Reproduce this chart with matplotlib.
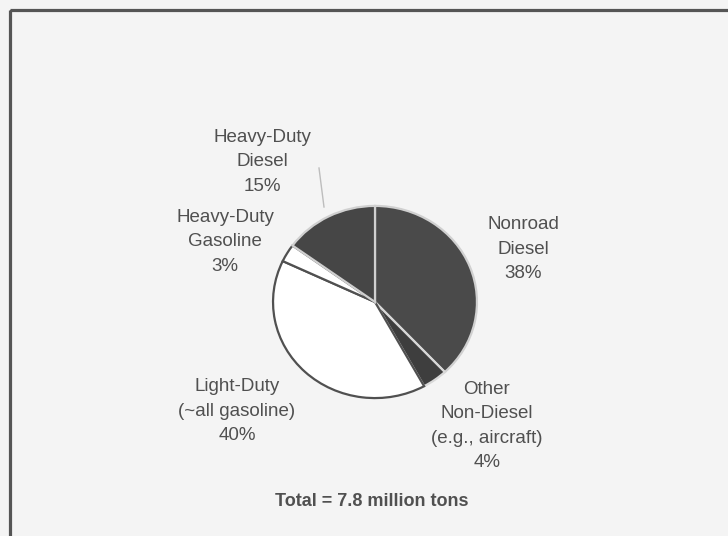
import matplotlib.pyplot as plt
from matplotlib.patches import Rectangle

# data (clockwise from 12 o'clock)
names = ['Nonroad\nDiesel', 'Other\nNon-Diesel\n(e.g., aircraft)',
         'Light-Duty\n(~all gasoline)', 'Heavy-Duty\nGasoline', 'Heavy-Duty\nDiesel']
shares = [38, 4, 40, 3, 15]
fills = ['#4a4a4a', '#3e3e3e', '#ffffff', '#ffffff', '#464646']
edges = ['#d0d0d0', '#d8d8d8', '#505050', '#505050', '#d0d0d0']
total_note = 'Total = 7.8 million tons'

# label centres in pixels (x, y from top)
label_pos = [(523, 249), (487, 426), (237, 411), (225, 242), (262, 162)]

plt.rcParams['font.family'] = ['Liberation Sans', 'DejaVu Sans']
txt_col = '#505050'

fig = plt.figure(figsize=(7.28, 5.36), dpi=100, facecolor='#f4f4f4')

# background axes in pixel units for the frame and texts
bg = fig.add_axes([0, 0, 1, 1])
bg.set_xlim(0, 728)
bg.set_ylim(536, 0)
bg.axis('off')
bg.add_patch(Rectangle((10, 10), 740, 540, fill=False, edgecolor='#555555', lw=2.3))

for name, s, (x, y) in zip(names, shares, label_pos):
    bg.text(x, y, name + '\n' + str(s) + '%', ha='center', va='center',
            fontsize=13.5, color=txt_col, linespacing=1.55)

bg.text(372, 502, total_note, ha='center', va='center', fontsize=13,
        fontweight='bold', color=txt_col)

# leader line for Heavy-Duty Diesel
bg.plot([319, 324], [168, 207], color='#bdbdbd', lw=1)

# pie, slightly wider than tall like the scan
cx, cy, rx, ry = 375, 302, 104, 98
pax = fig.add_axes([(cx - rx) / 728, (536 - cy - ry) / 536, 2 * rx / 728, 2 * ry / 536])
wedges, _ = pax.pie(shares, colors=fills, startangle=90, counterclock=False)
for w, ec in zip(wedges, edges):
    w.set_edgecolor(ec)
    w.set_linewidth(1.6)
pax.set_aspect('auto')
pax.set_xlim(-1.02, 1.02)
pax.set_ylim(-1.02, 1.02)
pax.axis('off')

fig.savefig('out.png', dpi=100, facecolor=fig.get_facecolor())
